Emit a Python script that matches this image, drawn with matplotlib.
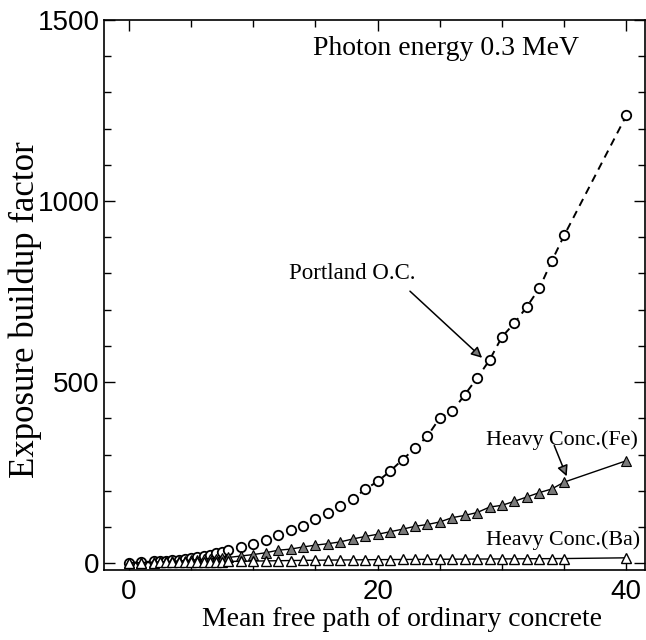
import matplotlib
matplotlib.use('Agg')
import matplotlib.pyplot as plt
from matplotlib.ticker import MultipleLocator

# mean free path values (dense steps between 2 and 8)
mfp = [0, 1, 2, 2.5, 3, 3.5, 4, 4.5, 5, 5.5, 6, 6.5, 7, 7.5, 8,
       9, 10, 11, 12, 13, 14, 15, 16, 17, 18, 19, 20, 21, 22, 23, 24, 25,
       26, 27, 28, 29, 30, 31, 32, 33, 34, 35, 40]

portland = [1, 3, 5, 6, 7, 9, 10, 12, 14, 17, 20, 24, 27, 31, 37,
            44, 53, 64, 77, 91, 104, 121, 138, 157, 178, 204, 226, 254, 286, 317, 351, 401,
            419, 465, 511, 561, 625, 663, 708, 759, 834, 905, 1236]

heavy_fe = [1, 2, 3, 4, 5, 5.5, 6.5, 7.5, 8.5, 9.5, 10.5, 12, 13, 14.5, 16,
            20, 24, 29, 36, 39, 45, 50, 54, 59, 67, 74, 80, 87, 94, 102, 107, 114,
            126, 132, 140, 155, 160, 171, 183, 195, 205, 224, 283]

heavy_ba = [1, 1.5, 2, 2.3, 2.6, 2.9, 3.2, 3.5, 3.8, 4, 4.2, 4.4, 4.6, 4.8, 5,
            5.5, 6, 6.5, 7, 7.5, 8, 8.3, 8.6, 9, 9.3, 9.6, 10, 10.2, 10.4, 10.6, 10.8, 11,
            11.2, 11.4, 11.6, 11.8, 12, 12.2, 12.4, 12.6, 12.8, 13, 15]

serif = ['Liberation Serif', 'DejaVu Serif']
sans = ['Liberation Sans', 'DejaVu Sans']

fig = plt.figure(figsize=(6.46, 6.40), dpi=100)
ax = fig.add_axes([0.161, 0.1086, 0.8375, 0.8604])

ax.plot(mfp, portland, linestyle=(0, (4, 3)), color='black', lw=1.4,
        marker='o', markersize=6.8, markerfacecolor='white',
        markeredgecolor='black', markeredgewidth=1.3, zorder=3)
ax.plot(mfp, heavy_fe, linestyle='-', color='black', lw=1.0,
        marker='^', markersize=7.5, markerfacecolor='#7a7a7a',
        markeredgecolor='black', markeredgewidth=0.8, zorder=4)
ax.plot(mfp, heavy_ba, linestyle='-', color='black', lw=1.0,
        marker='^', markersize=7.5, markerfacecolor='white',
        markeredgecolor='black', markeredgewidth=1.0, zorder=5)

ax.set_xlim(-2, 41.5)
ax.set_ylim(-20, 1500)
ax.xaxis.set_major_locator(MultipleLocator(20))
ax.xaxis.set_minor_locator(MultipleLocator(5))
ax.yaxis.set_major_locator(MultipleLocator(500))
ax.yaxis.set_minor_locator(MultipleLocator(100))
ax.tick_params(which='both', direction='in', top=True, right=True, width=1.0)
ax.tick_params(which='major', length=8, labelsize=20)
ax.tick_params(which='minor', length=5)
ax.tick_params(axis='y', which='major', pad=3)
ax.tick_params(axis='x', which='major', pad=6)
for lab in ax.get_xticklabels() + ax.get_yticklabels():
    lab.set_family(sans)
for sp in ax.spines.values():
    sp.set_linewidth(1.2)

ax.set_xlabel('Mean free path of ordinary concrete', fontsize=20, family=serif)
ax.set_ylabel('Exposure buildup factor', fontsize=25, family=serif)
ax.xaxis.set_label_coords(0.551, -0.066)
ax.yaxis.set_label_coords(-0.115, 0.473)

ax.text(14.8, 1420, 'Photon energy 0.3 MeV', fontsize=20, family=serif,
        ha='left', va='center')
ax.text(12.9, 800, 'Portland O.C.', fontsize=16.5, family=serif,
        ha='left', va='center')
ax.text(28.7, 341, 'Heavy Conc.(Fe)', fontsize=15.8, family=serif,
        ha='left', va='center')
ax.text(28.7, 63, 'Heavy Conc.(Ba)', fontsize=15.8, family=serif,
        ha='left', va='center')

arrow = dict(arrowstyle='-|>', ec='black', fc='#7a7a7a', lw=1.1,
             mutation_scale=16, shrinkA=0, shrinkB=0)
ax.annotate('', xy=(28.4, 567), xytext=(22.6, 751), arrowprops=arrow, zorder=6)
ax.annotate('', xy=(35.2, 240), xytext=(34.2, 325), arrowprops=arrow, zorder=6)

fig.savefig('out.png', dpi=100)
